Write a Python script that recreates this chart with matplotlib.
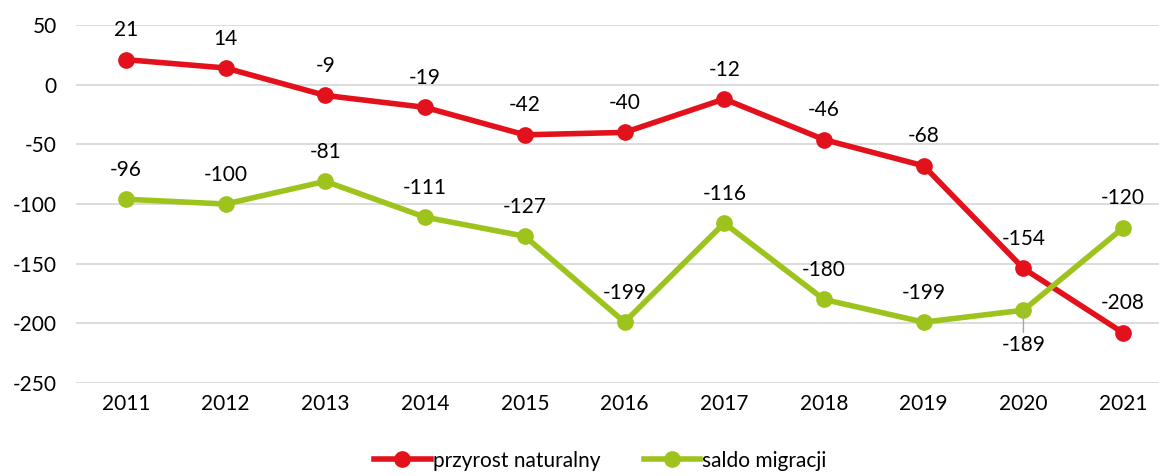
import matplotlib.pyplot as plt

plt.rcParams['font.family'] = ['Lato', 'DejaVu Sans']
plt.rcParams['axes.unicode_minus'] = False

years = ['2011', '2012', '2013', '2014', '2015', '2016', '2017', '2018', '2019', '2020', '2021']
przyrost = [21, 14, -9, -19, -42, -40, -12, -46, -68, -154, -208]
saldo = [-96, -100, -81, -111, -127, -199, -116, -180, -199, -189, -120]

red = '#E3111B'
green = '#9DC31C'
fs = 15

fig = plt.figure(figsize=(11.59, 4.76), dpi=100)
ax = fig.add_axes([0.0656, 0.1954, 0.9465, 0.752])

x = list(range(len(years)))
ax.plot(x, przyrost, color=red, lw=4, marker='o', ms=11, label='przyrost naturalny', zorder=3)
ax.plot(x, saldo, color=green, lw=4, marker='o', ms=11, label='saldo migracji', zorder=3)

for i, v in enumerate(przyrost):
    ax.annotate(str(v), (i, v), xytext=(0, 14), textcoords='offset points',
                ha='center', va='bottom', fontsize=fs)
for i, v in enumerate(saldo):
    if years[i] == '2020':
        # etykieta pod punktem, z linią odniesienia
        ax.annotate(str(v), (i, v), xytext=(0, -18), textcoords='offset points',
                    ha='center', va='top', fontsize=fs,
                    arrowprops=dict(arrowstyle='-', color='#A6A6A6', lw=1,
                                    shrinkA=0, shrinkB=0))
    else:
        ax.annotate(str(v), (i, v), xytext=(0, 14), textcoords='offset points',
                    ha='center', va='bottom', fontsize=fs)

ax.set_xlim(-0.5, len(years) - 0.5)
ax.set_ylim(-250, 50)
ax.set_yticks(range(-250, 51, 50))
ax.set_xticks(x)
ax.set_xticklabels(years)
ax.tick_params(axis='y', length=0, labelsize=fs, pad=14)
ax.tick_params(axis='x', length=0, labelsize=fs, pad=8)
ax.grid(axis='y', color='#D9D9D9', lw=1.3)
ax.set_axisbelow(True)
for s in ax.spines.values():
    s.set_visible(False)

fig.legend(loc='center', bbox_to_anchor=(0.518, 0.032), ncol=2, frameon=False,
           fontsize=fs, handlelength=2.7, columnspacing=2.1, handletextpad=0.1)

fig.savefig('out.png', dpi=100)
